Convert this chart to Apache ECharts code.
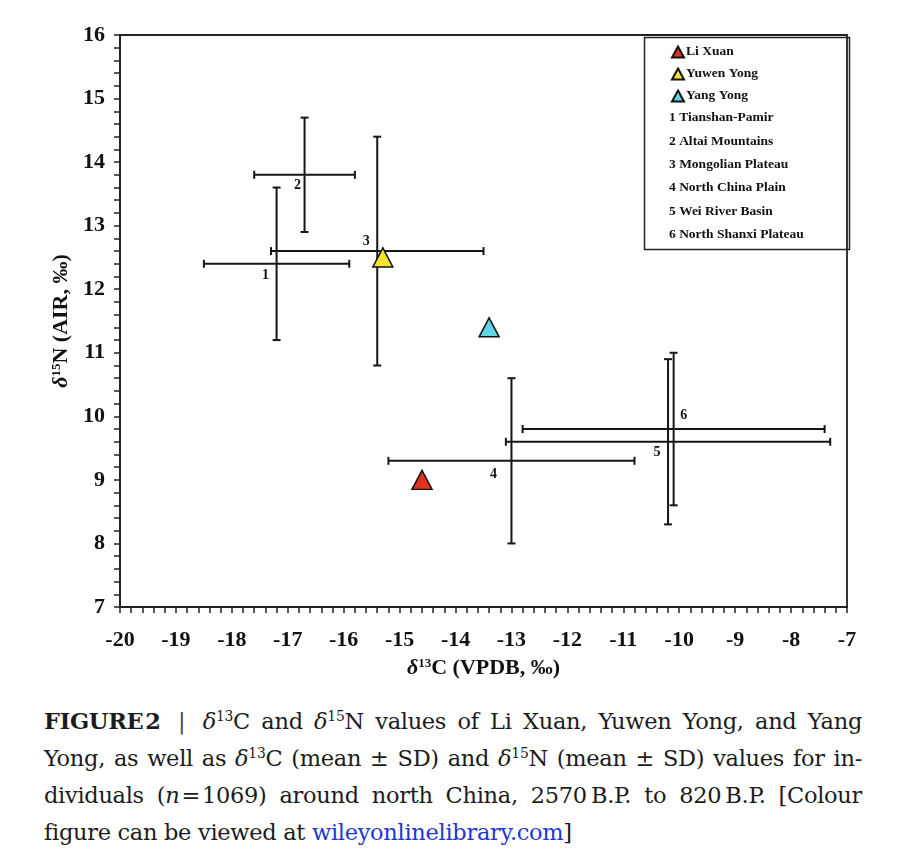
<!DOCTYPE html>
<html lang="en">
<head>
<meta charset="UTF-8">
<title>Figure 2</title>
<script src="https://cdn.jsdelivr.net/npm/echarts@6/dist/echarts.min.js"></script>
<style>
    body {margin: 0; background: #fff;}
    #main {position: absolute; left: 0; top: 0; width: 900px; height: 690px;}
    #caption {position: absolute; left: 44px; top: 703px; width: 818px;
        font-family: 'DejaVu Serif', serif; font-size: 22.5px; line-height: 37px; color: #1c1c1c;
        letter-spacing: -0.3px;}
    #caption .j {text-align: justify; text-align-last: justify; white-space: nowrap;}
    #caption sup {font-size: 0.62em; line-height: 0; vertical-align: 0.55em;}
    #caption a {color: #2336d0; text-decoration: none;}
    #caption .bar {color: #444; font-weight: 300; padding: 0 6px;}
</style>
</head>
<body>
<div id="main"></div>
<div id="caption">
    <div class="j"><b>FIGURE&#8202;2</b> <span class="bar">|</span> <i>δ</i><sup>13</sup>C and <i>δ</i><sup>15</sup>N values of Li Xuan, Yuwen Yong, and Yang</div>
    <div class="j">Yong, as well as <i>δ</i><sup>13</sup>C (mean ± SD) and <i>δ</i><sup>15</sup>N (mean ± SD) values for in-</div>
    <div class="j">dividuals (<i>n</i>&#8202;=&#8202;1069) around north China, 2570&#8201;B.P. to 820&#8201;B.P. [Colour</div>
    <div>figure can be viewed at <a>wileyonlinelibrary.com</a>]</div>
</div>
<script>
    // regional means and SDs (north China)
    var regions = ['Tianshan-Pamir', 'Altai Mountains', 'Mongolian Plateau', 'North China Plain', 'Wei River Basin', 'North Shanxi Plateau'];
    var regionC = [-17.2, -16.7, -15.4, -13.0, -10.2, -10.1];
    var regionCsd = [1.3, 0.9, 1.9, 2.2, 2.9, 2.7];
    var regionN = [12.4, 13.8, 12.6, 9.3, 9.6, 9.8];
    var regionNsd = [1.2, 0.9, 1.8, 1.3, 1.3, 1.2];

    // individuals
    var people = ['Li Xuan', 'Yuwen Yong', 'Yang Yong'];
    var peopleC = [-14.6, -15.3, -13.4];
    var peopleN = [9.0, 12.5, 11.4];
    var peopleColor = ['#e2321f', '#f4e42c', '#5fd6e6'];

    // label nudges for the region numbers (px)
    var numOffset = [[-11, 12], [-7, 11], [-11, -10], [-18, 14], [-11, 11], [10, -14]];

    var serif = "'Liberation Serif', 'Times New Roman', serif";
    var myChart = echarts.init(document.getElementById('main'));

    var barData = [];
    for (var i = 0; i < regions.length; i++) {
        barData.push([regionC[i], regionN[i], regionCsd[i], regionNsd[i], i + 1]);
    }

    function renderBars(params, api) {
        var x = api.value(0), y = api.value(1), sx = api.value(2), sy = api.value(3);
        var c = api.coord([x, y]);
        var l = api.coord([x - sx, y]), r = api.coord([x + sx, y]);
        var t = api.coord([x, y + sy]), b = api.coord([x, y - sy]);
        var cap = 4;
        var st = {stroke: '#151515', lineWidth: 2};
        var idx = params.dataIndex;
        var segs = [
            [l[0], l[1], r[0], r[1]],
            [t[0], t[1], b[0], b[1]],
            [l[0], l[1] - cap, l[0], l[1] + cap],
            [r[0], r[1] - cap, r[0], r[1] + cap],
            [t[0] - cap, t[1], t[0] + cap, t[1]],
            [b[0] - cap, b[1], b[0] + cap, b[1]]
        ];
        var children = segs.map(function (s) {
            return {type: 'line', shape: {x1: s[0], y1: s[1], x2: s[2], y2: s[3]}, style: st};
        });
        children.push({
            type: 'text',
            style: {
                text: String(api.value(4)), x: c[0] + numOffset[idx][0], y: c[1] + numOffset[idx][1],
                align: 'center', verticalAlign: 'middle',
                font: 'bold 14px ' + serif, fill: '#111'
            }
        });
        return {type: 'group', children: children};
    }

    var series = [{
        type: 'custom',
        name: 'regions',
        renderItem: renderBars,
        data: barData,
        z: 2,
        silent: true
    }];
    for (var k = 0; k < people.length; k++) {
        series.push({
            type: 'scatter',
            name: people[k],
            symbol: 'triangle',
            symbolSize: [20, 19],
            data: [[peopleC[k], peopleN[k]]],
            itemStyle: {color: peopleColor[k], borderColor: '#111', borderWidth: 1.5, opacity: 1},
            z: 5
        });
    }

    var listItems = regions.map(function (name, i) {
        return {
            type: 'text',
            left: 669,
            top: 111 + i * 23.3,
            style: {text: (i + 1) + ' ' + name, font: 'bold 13.5px ' + serif, fill: '#111'}
        };
    });

    var axisText = {fontFamily: serif, fontWeight: 'bold', fontSize: 22, color: '#111'};
    var nameRich = {
        d: {fontFamily: serif, fontWeight: 'bold', fontStyle: 'italic', fontSize: 22, color: '#111'},
        s: {fontFamily: serif, fontWeight: 'bold', fontSize: 13, color: '#111', verticalAlign: 'top', lineHeight: 14},
        n: {fontFamily: serif, fontWeight: 'bold', fontSize: 22, color: '#111'}
    };

    var option = {
        animation: false,
        backgroundColor: '#fff',
        grid: {
            left: 120, right: 53, top: 35, bottom: 83,
            show: true, borderColor: '#222', borderWidth: 1.8, backgroundColor: 'transparent'
        },
        legend: {
            data: people,
            orient: 'vertical',
            left: 666,
            top: 40,
            itemWidth: 12,
            itemHeight: 11,
            itemGap: 8,
            textStyle: {fontFamily: serif, fontWeight: 'bold', fontSize: 13.5, color: '#111', padding: [0, 0, 0, -3]}
        },
        graphic: [{
            type: 'rect',
            left: 642,
            top: 35,
            shape: {width: 205, height: 212},
            style: {fill: 'none', stroke: '#222', lineWidth: 1.5},
            z: 10
        }].concat(listItems),
        xAxis: {
            type: 'value',
            min: -20,
            max: -7,
            interval: 1,
            name: '{d|δ}{s|13}{n|C (VPDB, ‰)}',
            nameLocation: 'middle',
            nameGap: 50,
            nameTextStyle: {rich: nameRich},
            axisLine: {lineStyle: {color: '#222', width: 1.8}},
            axisTick: {length: 6, lineStyle: {color: '#222', width: 1.5}},
            minorTick: {show: true, splitNumber: 5, length: 6, lineStyle: {color: '#222', width: 1.5}},
            axisLabel: Object.assign({margin: 22}, axisText),
            splitLine: {show: false}
        },
        yAxis: {
            type: 'value',
            min: 7,
            max: 16,
            interval: 1,
            name: '{d|δ}{s|15}{n|N (AIR, ‰)}',
            nameLocation: 'middle',
            nameGap: 35,
            nameTextStyle: {rich: nameRich},
            axisLine: {lineStyle: {color: '#222', width: 1.8}},
            axisTick: {length: 6, lineStyle: {color: '#222', width: 1.5}},
            minorTick: {show: true, splitNumber: 5, length: 6, lineStyle: {color: '#222', width: 1.5}},
            axisLabel: Object.assign({margin: 15}, axisText),
            splitLine: {show: false}
        },
        series: series
    };

    myChart.setOption(option);
    window.addEventListener("resize", function () {
        myChart.resize();
    });
</script>
</body>
</html>
